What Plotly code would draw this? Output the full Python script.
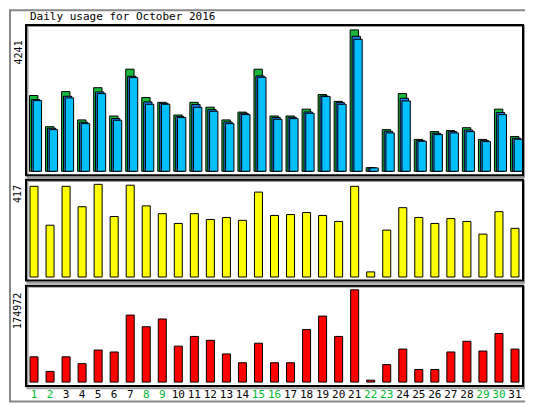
import plotly.graph_objects as go

days = list(range(1, 32))
day_labels = [str(d) for d in days]
weekend = [1, 2, 8, 9, 15, 16, 22, 23, 29, 30]
hits = [2273, 1337, 2390, 1541, 2507, 1658, 3062, 2214, 2068, 1688, 2068, 1922, 1541, 1775, 3062, 1658,
        1658, 1863, 2302, 2097, 4241, 108, 1249, 2331, 956, 1190, 1220, 1307, 956, 1863, 1044]
files = [2150, 1290, 2250, 1470, 2380, 1580, 2850, 2080, 2040, 1640, 2000, 1850, 1480, 1740, 2860, 1610,
         1620, 1780, 2260, 2060, 4050, 100, 1200, 2190, 920, 1140, 1190, 1240, 920, 1760, 990]
pages = [2120, 1250, 2200, 1430, 2330, 1530, 2810, 2010, 2010, 1610, 1920, 1800, 1430, 1700, 2820, 1560,
         1580, 1740, 2240, 2010, 3960, 100, 1150, 2110, 900, 1100, 1150, 1190, 890, 1700, 960]
visits = [408, 233, 408, 316, 417, 272, 413, 320, 285, 241, 285, 259, 268, 255, 382, 277,
          281, 290, 277, 250, 408, 23, 211, 312, 268, 241, 263, 250, 193, 294, 219]
kbytes = [47900, 20300, 47900, 35000, 60800, 57100, 127100, 105000, 119700, 68200, 86600, 79200, 53400,
          36800, 73700, 36800, 36800, 99500, 125200, 86600, 174972, 3700, 33200, 62600, 23900, 23900,
          57100, 77400, 58900, 92100, 62600]

C_HITS, C_FILES, C_PAGES = "#18B83A", "#1E7CF0", "#00C0FF"
line = dict(color="black", width=1)
fig = go.Figure()
W = 0.52
for vals, col, off in [(hits, C_HITS, -0.28), (files, C_FILES, -0.16), (pages, C_PAGES, -0.05)]:
    fig.add_bar(x=days, y=vals, width=W, offset=off, marker=dict(color=col, line=line),
                xaxis="x", yaxis="y")
fig.add_bar(x=days, y=visits, width=0.5, marker=dict(color="#FFFF00", line=line), xaxis="x2", yaxis="y2")
fig.add_bar(x=days, y=kbytes, width=0.5, marker=dict(color="#FF0000", line=line), xaxis="x3", yaxis="y3")

dom_top, dom_mid, dom_bot = [0.584, 1.0], [0.292, 0.571], [0.0, 0.278]
xbase = dict(range=[0.5, 31.5], showgrid=False, zeroline=False, fixedrange=True)
ybase = dict(showgrid=False, zeroline=False, showticklabels=False, ticks="")
mono = "DejaVu Sans Mono"
ticktext = [f"<span style='color:#00B830'>{d}</span>" if d in weekend else str(d) for d in days]
fig.update_layout(
    width=533, height=405, margin=dict(l=18, r=18, t=17, b=18),
    paper_bgcolor="white", plot_bgcolor="white", showlegend=False, barmode="overlay",
    font=dict(family=mono, size=11, color="black"),
    xaxis=dict(xbase, anchor="y", showticklabels=False),
    xaxis2=dict(xbase, anchor="y2", matches="x", showticklabels=False),
    xaxis3=dict(xbase, anchor="y3", matches="x", tickmode="array", tickvals=days, ticktext=ticktext,
                ticks="", tickfont=dict(family=mono, size=11)),
    yaxis=dict(ybase, domain=dom_top, range=[-117, 4388]),
    yaxis2=dict(ybase, domain=dom_mid, range=[-16, 437]),
    yaxis3=dict(ybase, domain=dom_bot, range=[-7400, 182900]),
)
shapes = [dict(type="rect", xref="paper", yref="paper", x0=-16/497, x1=1+15/497, y0=-16/370, y1=1+15/370,
               line=dict(color="#888888", width=2))]
for d in (dom_top, dom_mid, dom_bot):
    shapes.append(dict(type="rect", xref="paper", yref="paper", x0=0.003, x1=1.004, y0=d[0]-0.006, y1=d[1]-0.003,
                       line=dict(color="#999999", width=2)))
    shapes.append(dict(type="rect", xref="paper", yref="paper", x0=0, x1=1, y0=d[0], y1=d[1],
                       line=dict(color="black", width=2)))
fig.update_layout(shapes=shapes)

xl, xr = (10 - 18) / 497, (524 - 18) / 497
ann = [
    dict(text="Daily usage for October 2016", x=0.004, y=1.0, xanchor="left", yanchor="bottom", size=11),
    dict(text="4241", x=xl, y=0.924, textangle=-90, size=10),
    dict(text="417", x=xl, y=0.532, textangle=-90, size=10),
    dict(text="174972", x=xl, y=0.208, textangle=-90, size=10),
    dict(text=f"<span style='color:{C_PAGES}'>Pages</span>/<span style='color:{C_FILES}'>Files</span>/"
              f"<span style='color:{C_HITS}'>Hits</span>", x=xr, y=0.854, textangle=-90, size=10),
    dict(text="<span style='color:#E0E000'>Visits</span>", x=xr, y=0.514, textangle=-90, size=10),
    dict(text="<span style='color:#FF0000'>KBytes</span>", x=xr, y=0.222, textangle=-90, size=10),
]
for a in ann:
    size = a.pop("size")
    a.setdefault("xanchor", "center")
    a.setdefault("yanchor", "middle")
    a.update(xref="paper", yref="paper", showarrow=False, font=dict(family=mono, size=size))
fig.update_layout(annotations=ann)
fig.write_html("out.html")
